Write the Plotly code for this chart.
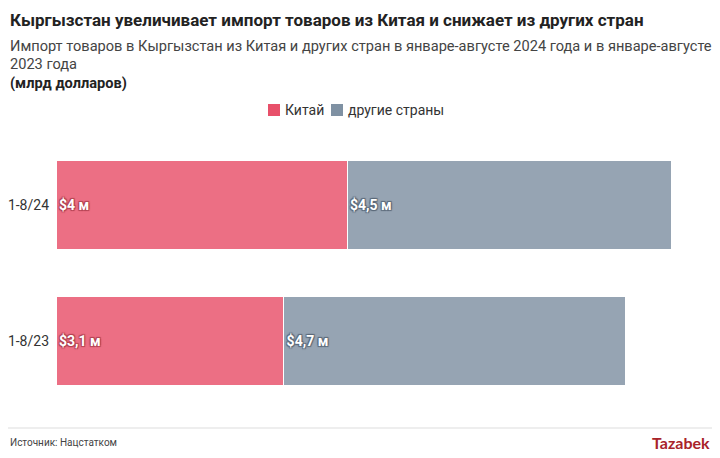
import plotly.graph_objects as go

categories = ["1-8/24", "1-8/23"]
china = [4.04, 3.16]
other = [4.5, 4.74]
china_labels = ["$4 м", "$3,1 м"]
other_labels = ["$4,5 м", "$4,7 м"]
series_names = ["Китай", "другие страны"]

FONT = "Roboto"
RED = "#e8506a"
GREY = "#7f91a3"
OFF = 8  # page body margin
W, H = 720 - OFF, 458 - OFF
ML, MR, MT, MB = 56 - OFF, 15, 137 - OFF, 49
PW, PH = W - ML - MR, H - MT - MB


def px(x):
    return (x - OFF - ML) / PW


def py(y):
    return (H - (y - OFF) - MB) / PH


fig = go.Figure()
fig.add_trace(go.Bar(
    y=categories, x=china, name=series_names[0], orientation="h",
    marker=dict(color=RED, opacity=0.82, line=dict(color="white", width=1)),
    text=china_labels, textposition="inside", insidetextanchor="start",
    textfont=dict(color="white", size=14, family=FONT, weight="bold",
                  shadow="1px 1px 1px #b04050, -1px -1px 1px #b04050, 1px -1px 1px #b04050, -1px 1px 1px #b04050"),
    hoverinfo="skip",
))
fig.add_trace(go.Bar(
    y=categories, x=other, name=series_names[1], orientation="h",
    marker=dict(color=GREY, opacity=0.82, line=dict(color="white", width=1)),
    text=other_labels, textposition="inside", insidetextanchor="start",
    textfont=dict(color="white", size=14, family=FONT, weight="bold",
                  shadow="1px 1px 1px #5a6878, -1px -1px 1px #5a6878, 1px -1px 1px #5a6878, -1px 1px 1px #5a6878"),
    hoverinfo="skip",
))

fig.update_layout(
    width=W, height=H,
    barmode="stack", bargap=0.34,
    margin=dict(l=ML, r=MR, t=MT, b=MB, autoexpand=False),
    paper_bgcolor="white", plot_bgcolor="white",
    font=dict(family=FONT, color="#333333"),
    showlegend=False,
    xaxis=dict(range=[0, 9.01], visible=False, fixedrange=True, automargin=False),
    yaxis=dict(categoryorder="array", categoryarray=categories[::-1],
               showgrid=False, zeroline=False, showline=False, automargin=False,
               tickfont=dict(size=14, color="#333333"), ticks="", ticklabelstandoff=6),
)

annotations = [
    dict(text="<b>Кыргызстан увеличивает импорт товаров из Китая и снижает из других стран</b>",
         x=8, y=8, size=17, color="#222222"),
    dict(text="Импорт товаров в Кыргызстан из Китая и других стран в январе-августе 2024 года и в январе-августе",
         x=8, y=35, size=14.6, color="#444444"),
    dict(text="2023 года", x=8, y=53, size=14.6, color="#444444"),
    dict(text="<b>(млрд долларов)</b>", x=8, y=72, size=14.6, color="#222222"),
    dict(text="Источник: Нацстатком", x=8, y=435, size=10, color="#444444"),
]
for a in annotations:
    fig.add_annotation(xref="paper", yref="paper", xanchor="left", yanchor="top",
                       showarrow=False, align="left", text=a["text"],
                       x=px(a["x"]), y=py(a["y"]),
                       font=dict(size=a["size"], color=a["color"]))

# legend (manual)
legend_items = [(268, RED, series_names[0]), (331, GREY, series_names[1])]
for lx, col, name in legend_items:
    fig.add_shape(type="rect", xref="paper", yref="paper",
                  x0=px(lx), x1=px(lx + 12), y0=py(116), y1=py(104),
                  fillcolor=col, line=dict(width=0))
    fig.add_annotation(xref="paper", yref="paper", xanchor="left", yanchor="middle",
                       showarrow=False, text=name, x=px(lx + 15), y=py(110),
                       font=dict(size=14, color="#333333"))

fig.add_annotation(xref="paper", yref="paper", xanchor="right", yanchor="top", showarrow=False,
                   text="<b>Tazabek</b>", x=px(712), y=py(431),
                   font=dict(size=16, color="#a8232a", family="Lato"))

fig.add_shape(type="line", xref="paper", yref="paper",
              x0=px(8), x1=px(712), y0=py(428), y1=py(428),
              line=dict(color="#eeeeee", width=2))

fig.write_html("out.html")
